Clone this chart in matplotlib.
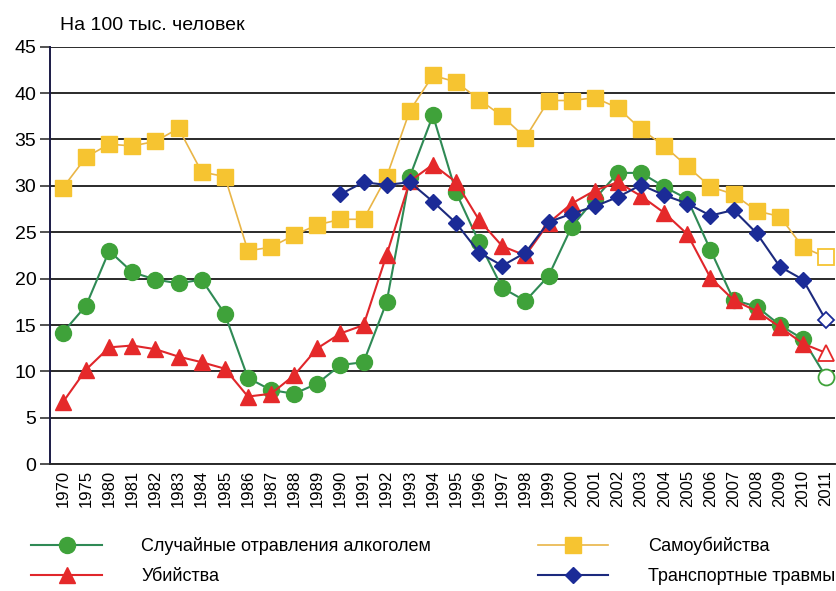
import matplotlib
matplotlib.use("Agg")
import matplotlib.pyplot as plt
import numpy as np
from matplotlib import font_manager

# pick a condensed font if it is available
names = {f.name for f in font_manager.fontManager.ttflist}
FONT = "Liberation Sans Narrow" if "Liberation Sans Narrow" in names else "Liberation Sans"
plt.rcParams["font.family"] = [FONT, "DejaVu Sans"]

years = ["1970", "1975", "1980", "1981", "1982", "1983", "1984", "1985", "1986",
         "1987", "1988", "1989", "1990", "1991", "1992", "1993", "1994", "1995",
         "1996", "1997", "1998", "1999", "2000", "2001", "2002", "2003", "2004",
         "2005", "2006", "2007", "2008", "2009", "2010", "2011"]

alcohol = [14.2, 17.1, 23.0, 20.7, 19.9, 19.5, 19.9, 16.2, 9.3, 8.0, 7.6, 8.7,
           10.7, 11.0, 17.5, 31.0, 37.6, 29.3, 23.9, 19.0, 17.6, 20.3, 25.6,
           28.6, 31.4, 31.4, 29.9, 28.6, 23.1, 17.7, 17.0, 15.0, 13.5, 9.4]

homicide = [6.7, 10.2, 12.6, 12.8, 12.4, 11.6, 11.0, 10.3, 7.3, 7.6, 9.6, 12.5,
            14.1, 15.0, 22.6, 30.5, 32.3, 30.4, 26.3, 23.5, 22.5, 26.0, 28.1,
            29.5, 30.4, 28.9, 27.1, 24.8, 20.1, 17.7, 16.5, 14.8, 13.0, 12.0]

suicide = [29.8, 33.1, 34.5, 34.3, 34.8, 36.2, 31.5, 31.0, 23.0, 23.4, 24.7, 25.8,
           26.4, 26.4, 31.0, 38.1, 41.9, 41.2, 39.3, 37.5, 35.2, 39.2, 39.2,
           39.5, 38.4, 36.1, 34.3, 32.1, 29.9, 29.1, 27.3, 26.7, 23.4, 22.3]

transport = [np.nan] * 12 + [29.1, 30.4, 30.1, 30.4, 28.3, 26.0, 22.8, 21.4,
                             22.8, 26.1, 27.0, 27.8, 28.8, 30.1, 29.0, 28.1,
                             26.8, 27.4, 24.9, 21.3, 19.9, 15.5]

labels = ["Случайные отравления алкоголем", "Убийства",
          "Самоубийства", "Транспортные травмы"]

# (series, line colour, marker colour, marker, size, line width)
series = [
    (alcohol, "#2f8a55", "#3fa23a", "o", 11.5, 1.5),
    (homicide, "#e0262b", "#e5292a", "^", 11.5, 1.5),
    (suicide, "#e9b547", "#f6c431", "s", 11.5, 1.2),
    (transport, "#1c2a7e", "#1b2b97", "D", 8.5, 1.5),
]

fig = plt.figure(figsize=(8.37, 5.91), dpi=100)
ax = fig.add_axes([0.06, 0.2144, 0.938, 0.7066])

x = np.arange(len(years))
handles = []
for (vals, lc, mc, mk, ms, lw), lab in zip(series, labels):
    vals = np.array(vals, dtype=float)
    line, = ax.plot(x, vals, color=lc, lw=lw, marker=mk, ms=ms,
                    mfc=mc, mec=mc, markevery=list(range(len(x) - 1)),
                    label=lab, zorder=3)
    # last year drawn as a hollow marker
    ax.plot(x[-1:], vals[-1:], ls="none", marker=mk, ms=ms,
            mfc="white", mec=mc, mew=1.3, zorder=3)
    handles.append(line)

ax.set_xlim(-0.55, 33.4)
ax.set_ylim(0, 45)
ax.set_yticks(np.arange(0, 46, 5))
ax.set_xticks(x)
ax.set_xticklabels(years, rotation=90, fontsize=12)
ax.tick_params(axis="x", length=0, pad=4)
ax.tick_params(axis="y", length=7, width=1.2, labelsize=14, pad=3, color="#333333")
ax.yaxis.grid(True, color="#2a2a2a", lw=1.4)
ax.set_axisbelow(True)
for s in ["top", "right"]:
    ax.spines[s].set_visible(False)
ax.spines["left"].set_color("#1a1a45")
ax.spines["left"].set_linewidth(1.4)
ax.spines["bottom"].set_color("#2a2a2a")
ax.spines["bottom"].set_linewidth(1.4)

fig.text(0.072, 0.957, "На 100 тыс. человек", fontsize=14, va="center", ha="left")

fig.legend(handles=handles, loc="lower left", bbox_to_anchor=(0.018, -0.018),
           ncol=2, frameon=False, fontsize=13, handlelength=3.9,
           handletextpad=2.2, columnspacing=5.9, labelspacing=0.75,
           numpoints=1)

fig.savefig("out.png", dpi=100)
